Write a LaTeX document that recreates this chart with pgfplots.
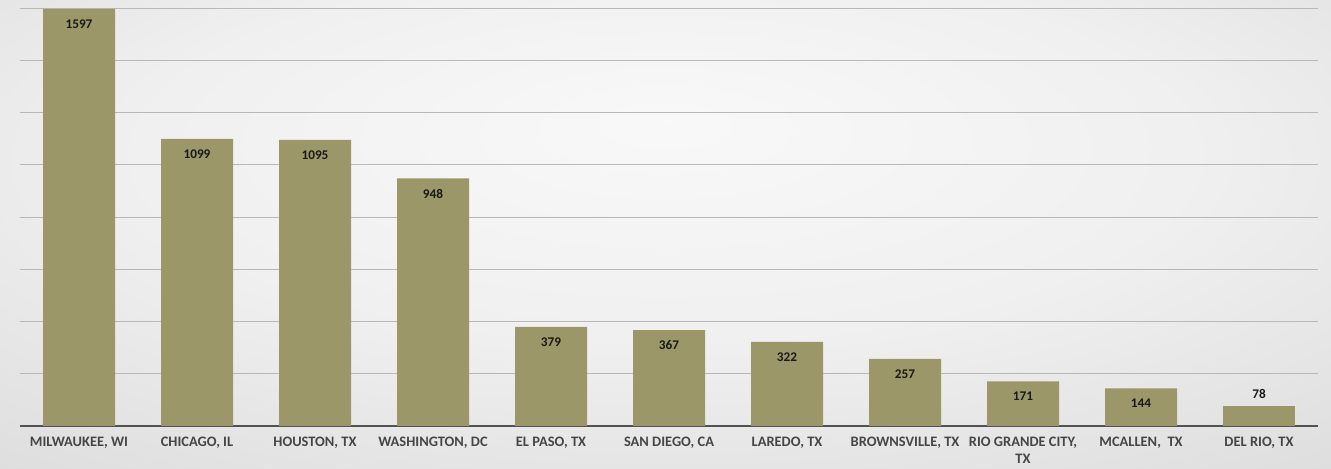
\documentclass[border=0pt]{standalone}
\usepackage{pgfplots}
\pgfplotsset{compat=1.18}
\usepackage{fontspec}
\setmainfont{Carlito}
\definecolor{barc}{RGB}{156,151,104}
\definecolor{ticktext}{RGB}{70,70,70}
\definecolor{valtext}{RGB}{25,25,25}
\pgfdeclareradialshading{bgshade}{\pgfpoint{0bp}{12bp}}{%
  rgb(0bp)=(0.975,0.975,0.975);
  rgb(20bp)=(0.94,0.94,0.94);
  rgb(45bp)=(0.85,0.85,0.85);
  rgb(70bp)=(0.79,0.79,0.79)}
\begin{document}
\begin{tikzpicture}[x=1bp,y=1bp]
\shade[shading=bgshade] (0,0) rectangle (1331,469);
\begin{axis}[
  at={(20bp,43bp)}, anchor=south west,
  scale only axis, width=1298bp, height=418bp,
  xmin=-0.5, xmax=10.5, ymin=0, ymax=1600,
  ybar, bar width=72bp,
  axis x line*=bottom, axis y line*=left,
  x axis line style={draw=black!68, line width=1.6pt},
  y axis line style={draw=none},
  ytick={200,400,...,1600}, yticklabels={},
  ymajorgrids, grid style={draw=black!28, line width=0.9pt},
  major tick length=0pt,
  xtick={0,...,10},
  xticklabels={{MILWAUKEE, WI},{CHICAGO, IL},{HOUSTON, TX},{WASHINGTON, DC},{EL PASO, TX},{SAN DIEGO, CA},{LAREDO, TX},{BROWNSVILLE, TX},{RIO GRANDE CITY,\\TX},{MCALLEN,\ \ TX},{DEL RIO, TX}},
  xticklabel style={font=\fontsize{14.5}{16.5}\selectfont\bfseries, text=ticktext, align=center, anchor=north, yshift=-8bp},
  /pgf/number format/1000 sep={},
  /pgf/number format/assume math mode=true,
]
\addplot[ybar, bar shift=0pt, fill=barc, draw=none,
  nodes near coords,
  nodes near coords style={font=\fontsize{13.3}{15}\selectfont\bfseries, text=valtext, anchor=north, inner sep=0pt, yshift=-10.5bp}]
  coordinates {(0,1597) (1,1099) (2,1095) (3,948) (4,379) (5,367) (6,322) (7,257) (8,171) (9,144)};
\addplot[ybar, bar shift=0pt, fill=barc, draw=none,
  nodes near coords,
  nodes near coords style={font=\fontsize{13.3}{15}\selectfont\bfseries, text=valtext, anchor=south, inner sep=0pt, yshift=7bp}]
  coordinates {(10,78)};
\end{axis}
\end{tikzpicture}
\end{document}
